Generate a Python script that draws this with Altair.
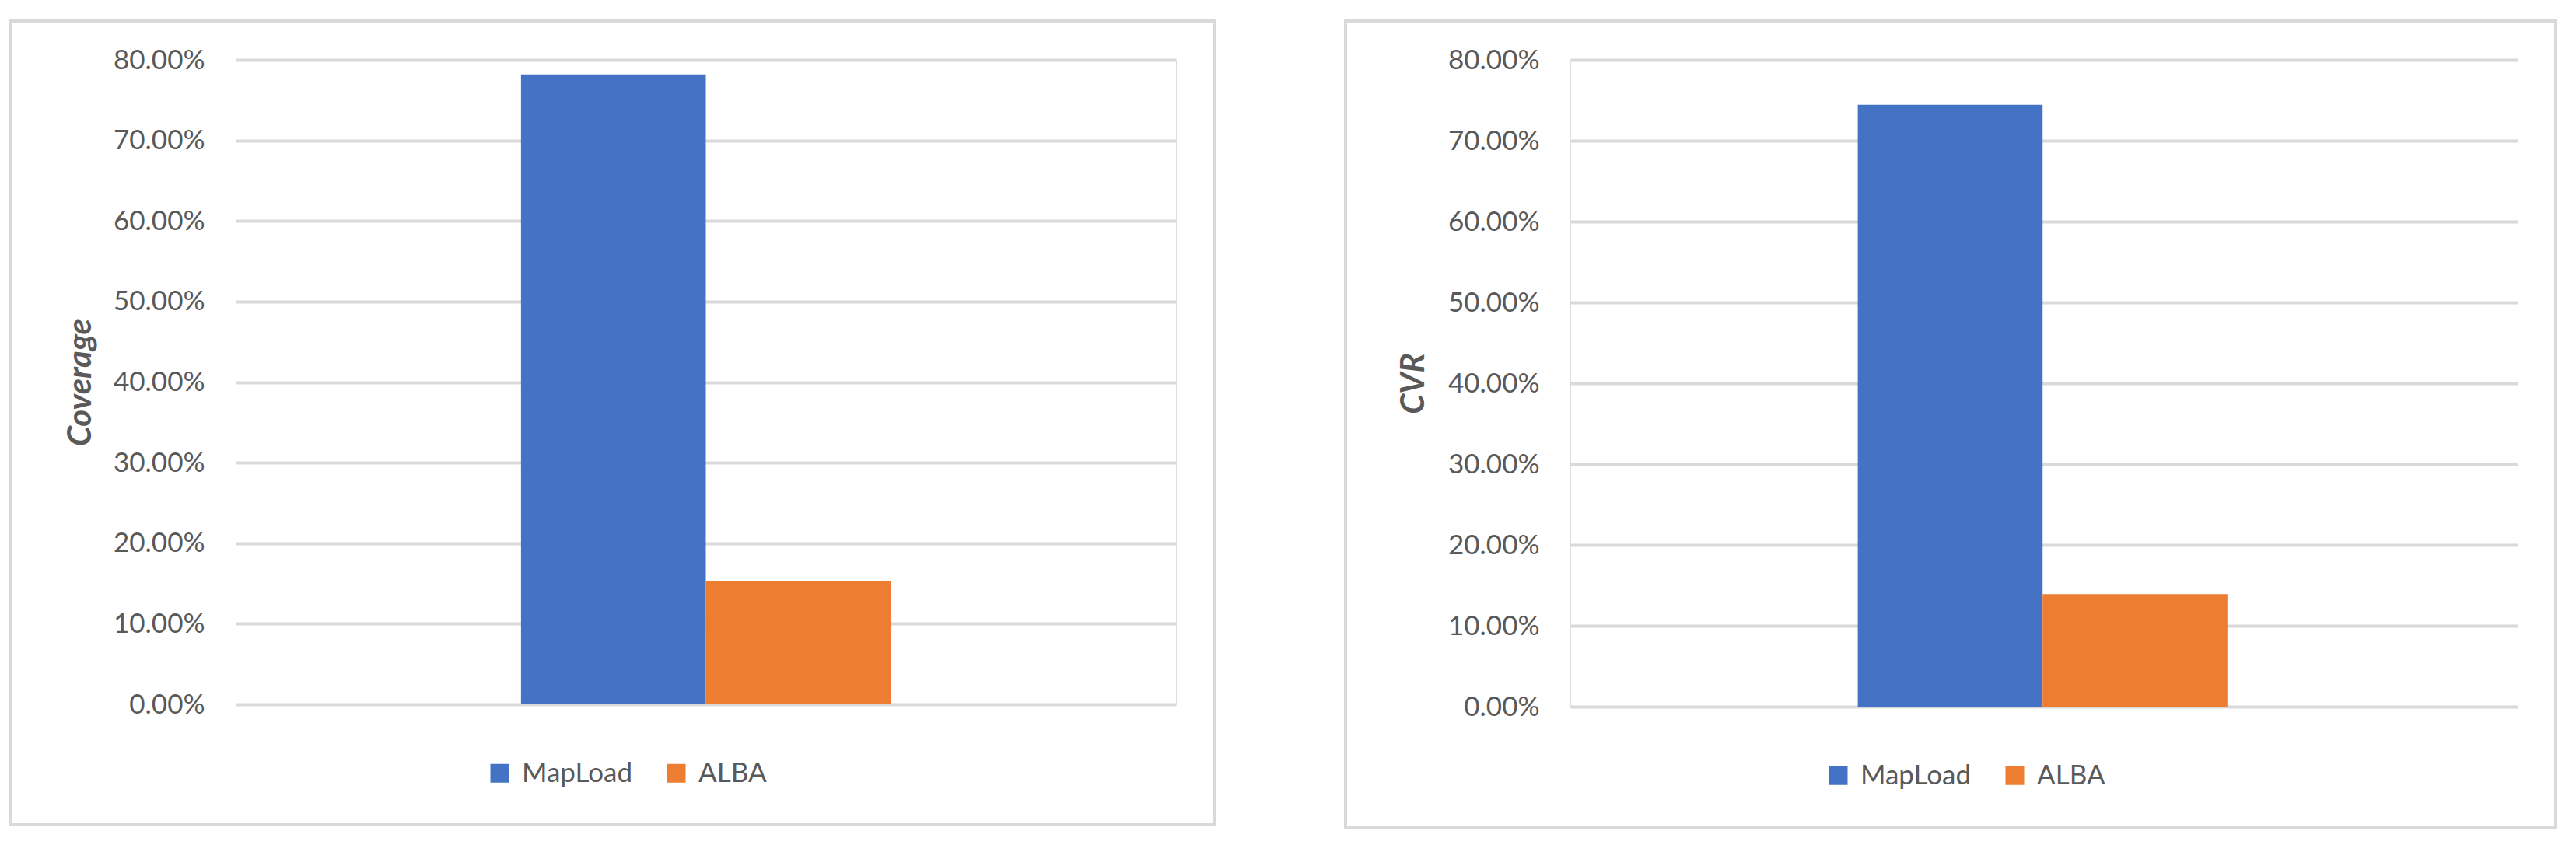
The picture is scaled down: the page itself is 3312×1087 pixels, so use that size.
import altair as alt
import pandas as pd

series = ["MapLoad", "ALBA"]
coverage_vals = [0.782, 0.1532]
cvr_vals = [0.7445, 0.1391]
y_ticks = [0.0, 0.1, 0.2, 0.3, 0.4, 0.5, 0.6, 0.7, 0.8]
colors = ["#4472C4", "#ED7D31"]

FONT = "Lato"
TXT = "#595959"
GRID = "#D9D9D9"


def panel(vals, title, width, height, title_x, legend_x, legend_y):
    df = pd.DataFrame({"grp": ["g"] * len(series), "series": series, "value": vals})
    frame = alt.Chart(alt.Data(values=[{"f": 1}])).mark_rect(
        fillOpacity=0, stroke=GRID, strokeWidth=4
    ).encode(
        x=alt.value(-289), x2=alt.value(width + 49),
        y=alt.value(-50), y2=alt.value(height + 155),
    )
    bars = alt.Chart(df).mark_bar().encode(
        x=alt.X("grp:N", axis=None,
                scale=alt.Scale(paddingOuter=0.772, paddingInner=0)),
        xOffset=alt.XOffset("series:N", sort=series,
                            scale=alt.Scale(paddingInner=0, paddingOuter=0)),
        y=alt.Y("value:Q",
                scale=alt.Scale(domain=[0, 0.8], nice=False, zero=True),
                axis=alt.Axis(
                    values=y_ticks, format=".2%", title=title,
                    grid=True, gridColor=GRID, gridWidth=4,
                    domain=False, ticks=False, tickSize=0,
                    labelFont=FONT, labelFontSize=35, labelColor=TXT,
                    labelPadding=40,
                    titleFont=FONT, titleFontSize=42, titleFontWeight="bold",
                    titleFontStyle="italic", titleColor=TXT,
                    titleAngle=270, titleX=title_x, titleY=height / 2,
                    titleAlign="center", titleBaseline="middle",
                )),
        color=alt.Color("series:N", sort=series,
                        scale=alt.Scale(domain=series, range=colors),
                        legend=alt.Legend(
                            title=None, orient="none", direction="horizontal",
                            legendX=legend_x, legendY=legend_y,
                            symbolType="square", symbolSize=576,
                            symbolStrokeWidth=0, symbolOpacity=1,
                            labelFont=FONT, labelFontSize=35, labelColor=TXT,
                            labelOffset=11, columnPadding=38, padding=0,
                        )),
    )
    return alt.layer(frame, bars).properties(width=width, height=height)


left = panel(coverage_vals, "Coverage", 1209, 829, -200, 322, 900)
right = panel(cvr_vals, "CVR", 1218, 832, -202, 327, 903)

chart = alt.hconcat(left, right, spacing=163).resolve_legend(
    color="independent"
).properties(
    padding={"left": 3, "top": 16, "right": 5, "bottom": 5}
).configure_view(stroke=None).configure(background="white")

chart.save("out.html", embed_options={"renderer": "svg", "actions": False})
